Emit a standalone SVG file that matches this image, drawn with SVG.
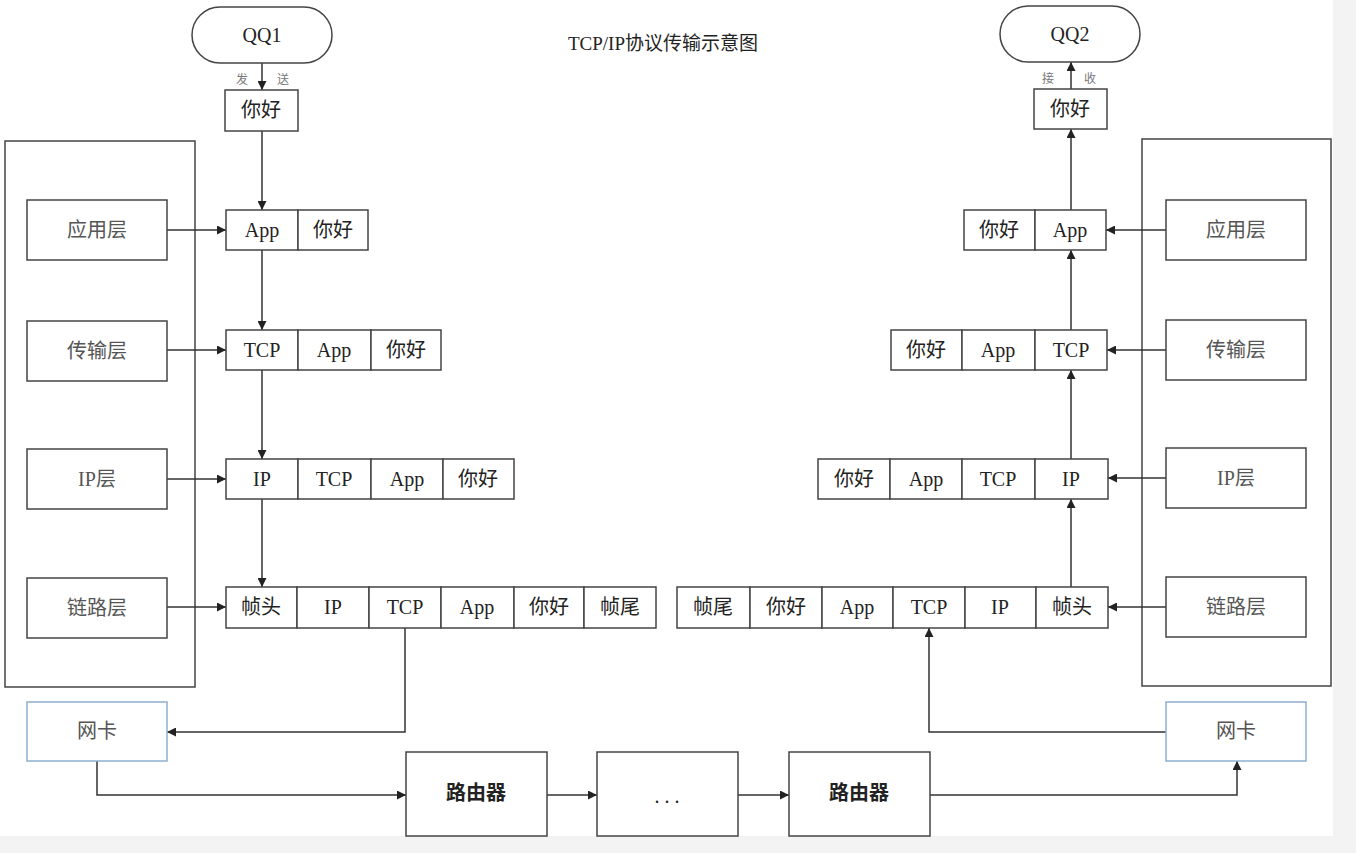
<svg xmlns="http://www.w3.org/2000/svg" width="1356" height="853" viewBox="0 0 1356 853">
<defs>
<marker id="ah" viewBox="0 0 10 10" refX="10" refY="5" markerWidth="10" markerHeight="9" orient="auto" markerUnits="userSpaceOnUse">
<path d="M0,0 L10,5 L0,10 z" fill="#222"/>
</marker>
<style>
.bx{fill:#fff;stroke:#444;stroke-width:1.5}
.nb{fill:#fff;stroke:#8fb0d2;stroke-width:1.5}
.ob{fill:none;stroke:#444;stroke-width:1.5}
.a{fill:none;stroke:#333;stroke-width:1.5;marker-end:url(#ah)}
.t{font-family:"Liberation Serif","Noto Sans CJK SC",serif;font-size:20px;fill:#222;text-anchor:middle;dominant-baseline:central}
.lt{font-family:"Liberation Serif","Noto Sans CJK SC",serif;font-size:20px;fill:#555;text-anchor:middle;dominant-baseline:central}
.st{font-family:"Noto Sans CJK SC",sans-serif;font-size:12px;fill:#777;text-anchor:middle;dominant-baseline:central}
.tt{font-family:"Liberation Serif","Noto Sans CJK SC",serif;font-size:19px;fill:#222;text-anchor:middle;dominant-baseline:central}
</style>
</defs>
<rect x="0" y="0" width="1356" height="853" fill="#fff"/>
<rect x="0" y="836" width="1356" height="17" fill="#f3f3f3"/>
<rect x="1333" y="0" width="23" height="853" fill="#f3f3f3"/>

<text class="tt" x="663" y="43">TCP/IP协议传输示意图</text>

<g id="outer-left"><rect class="ob" x="5" y="141" width="190" height="546"/></g>
<g id="outer-right"><rect class="ob" x="1142" y="139" width="189" height="547"/></g>

<g id="connectors">
<line class="a" x1="262" y1="63" x2="262" y2="90"/>
<line class="a" x1="262" y1="131" x2="262" y2="210"/>
<line class="a" x1="262" y1="250" x2="262" y2="330"/>
<line class="a" x1="262" y1="370" x2="262" y2="459"/>
<line class="a" x1="262" y1="499" x2="262" y2="587"/>
<line class="a" x1="167" y1="230" x2="226" y2="230"/>
<line class="a" x1="167" y1="350" x2="226" y2="350"/>
<line class="a" x1="167" y1="479" x2="226" y2="479"/>
<line class="a" x1="167" y1="607" x2="226" y2="607"/>
<polyline class="a" points="405,628 405,732 167,732"/>
<polyline class="a" points="97,761 97,795 406,795"/>
<line class="a" x1="547" y1="795" x2="597" y2="795"/>
<line class="a" x1="738" y1="795" x2="789" y2="795"/>
<polyline class="a" points="930,795 1237,795 1237,761"/>
<polyline class="a" points="1166,732 929,732 929,628"/>
<line class="a" x1="1166" y1="230" x2="1106" y2="230"/>
<line class="a" x1="1166" y1="350" x2="1107" y2="350"/>
<line class="a" x1="1166" y1="478" x2="1108" y2="478"/>
<line class="a" x1="1166" y1="607" x2="1108" y2="607"/>
<line class="a" x1="1071" y1="587" x2="1071" y2="499"/>
<line class="a" x1="1071" y1="459" x2="1071" y2="370"/>
<line class="a" x1="1071" y1="330" x2="1071" y2="250"/>
<line class="a" x1="1071" y1="210" x2="1071" y2="129"/>
<line class="a" x1="1071" y1="89" x2="1071" y2="62"/>
<text class="st" x="242" y="78">发</text>
<text class="st" x="283" y="78">送</text>
<text class="st" x="1048" y="77">接</text>
<text class="st" x="1090" y="77">收</text>
</g>

<g id="qq1"><rect class="bx" x="192" y="7" width="140" height="56" rx="28"/><text class="t" x="262" y="35">QQ1</text></g>
<g id="qq2"><rect class="bx" x="1000" y="6" width="140" height="56" rx="28"/><text class="t" x="1070" y="34">QQ2</text></g>

<g id="msg-left"><rect class="bx" x="225" y="90" width="73" height="41"/><text class="t" x="261" y="110">你好</text></g>
<g id="msg-right"><rect class="bx" x="1034" y="89" width="73" height="40"/><text class="t" x="1070" y="109">你好</text></g>

<g id="layers-left">
<rect class="bx" x="27" y="200" width="140" height="60"/><text class="lt" x="97" y="230">应用层</text>
<rect class="bx" x="27" y="321" width="140" height="60"/><text class="lt" x="97" y="351">传输层</text>
<rect class="bx" x="27" y="449" width="140" height="60"/><text class="lt" x="97" y="479">IP层</text>
<rect class="bx" x="27" y="578" width="140" height="60"/><text class="lt" x="97" y="608">链路层</text>
</g>
<g id="layers-right">
<rect class="bx" x="1166" y="200" width="140" height="60"/><text class="lt" x="1236" y="230">应用层</text>
<rect class="bx" x="1166" y="320" width="140" height="60"/><text class="lt" x="1236" y="350">传输层</text>
<rect class="bx" x="1166" y="448" width="140" height="60"/><text class="lt" x="1236" y="478">IP层</text>
<rect class="bx" x="1166" y="577" width="140" height="60"/><text class="lt" x="1236" y="607">链路层</text>
</g>

<g id="pkt-left-1">
<rect class="bx" x="226" y="210" width="72" height="40"/><text class="t" x="262" y="230">App</text>
<rect class="bx" x="298" y="210" width="70" height="40"/><text class="t" x="333" y="230">你好</text>
</g>
<g id="pkt-left-2">
<rect class="bx" x="226" y="330" width="72" height="40"/><text class="t" x="262" y="350">TCP</text>
<rect class="bx" x="298" y="330" width="73" height="40"/><text class="t" x="334" y="350">App</text>
<rect class="bx" x="371" y="330" width="70" height="40"/><text class="t" x="406" y="350">你好</text>
</g>
<g id="pkt-left-3">
<rect class="bx" x="226" y="459" width="72" height="40"/><text class="t" x="262" y="479">IP</text>
<rect class="bx" x="298" y="459" width="73" height="40"/><text class="t" x="334" y="479">TCP</text>
<rect class="bx" x="371" y="459" width="72" height="40"/><text class="t" x="407" y="479">App</text>
<rect class="bx" x="443" y="459" width="71" height="40"/><text class="t" x="478" y="479">你好</text>
</g>
<g id="pkt-left-4">
<rect class="bx" x="226" y="587" width="71" height="41"/><text class="t" x="261" y="607">帧头</text>
<rect class="bx" x="297" y="587" width="72" height="41"/><text class="t" x="333" y="607">IP</text>
<rect class="bx" x="369" y="587" width="72" height="41"/><text class="t" x="405" y="607">TCP</text>
<rect class="bx" x="441" y="587" width="73" height="41"/><text class="t" x="477" y="607">App</text>
<rect class="bx" x="514" y="587" width="70" height="41"/><text class="t" x="549" y="607">你好</text>
<rect class="bx" x="584" y="587" width="72" height="41"/><text class="t" x="620" y="607">帧尾</text>
</g>

<g id="pkt-right-1">
<rect class="bx" x="964" y="210" width="71" height="40"/><text class="t" x="999" y="230">你好</text>
<rect class="bx" x="1035" y="210" width="71" height="40"/><text class="t" x="1070" y="230">App</text>
</g>
<g id="pkt-right-2">
<rect class="bx" x="891" y="330" width="71" height="40"/><text class="t" x="926" y="350">你好</text>
<rect class="bx" x="962" y="330" width="73" height="40"/><text class="t" x="998" y="350">App</text>
<rect class="bx" x="1035" y="330" width="72" height="40"/><text class="t" x="1071" y="350">TCP</text>
</g>
<g id="pkt-right-3">
<rect class="bx" x="818" y="459" width="72" height="40"/><text class="t" x="854" y="479">你好</text>
<rect class="bx" x="890" y="459" width="72" height="40"/><text class="t" x="926" y="479">App</text>
<rect class="bx" x="962" y="459" width="73" height="40"/><text class="t" x="998" y="479">TCP</text>
<rect class="bx" x="1035" y="459" width="73" height="40"/><text class="t" x="1071" y="479">IP</text>
</g>
<g id="pkt-right-4">
<rect class="bx" x="677" y="587" width="73" height="41"/><text class="t" x="713" y="607">帧尾</text>
<rect class="bx" x="750" y="587" width="72" height="41"/><text class="t" x="786" y="607">你好</text>
<rect class="bx" x="822" y="587" width="71" height="41"/><text class="t" x="857" y="607">App</text>
<rect class="bx" x="893" y="587" width="72" height="41"/><text class="t" x="929" y="607">TCP</text>
<rect class="bx" x="965" y="587" width="71" height="41"/><text class="t" x="1000" y="607">IP</text>
<rect class="bx" x="1036" y="587" width="72" height="41"/><text class="t" x="1072" y="607">帧头</text>
</g>

<g id="nic-left"><rect class="nb" x="27" y="702" width="140" height="59"/><text class="lt" x="97" y="731">网卡</text></g>
<g id="nic-right"><rect class="nb" x="1166" y="702" width="140" height="59"/><text class="lt" x="1236" y="731">网卡</text></g>

<g id="router1"><rect class="bx" x="406" y="752" width="141" height="84"/><text class="t" x="476" y="793" font-weight="bold">路由器</text></g>
<g id="dots"><rect class="bx" x="597" y="752" width="141" height="84"/><text class="t" x="667" y="796">. . .</text></g>
<g id="router2"><rect class="bx" x="789" y="752" width="141" height="84"/><text class="t" x="859" y="793" font-weight="bold">路由器</text></g>
</svg>
